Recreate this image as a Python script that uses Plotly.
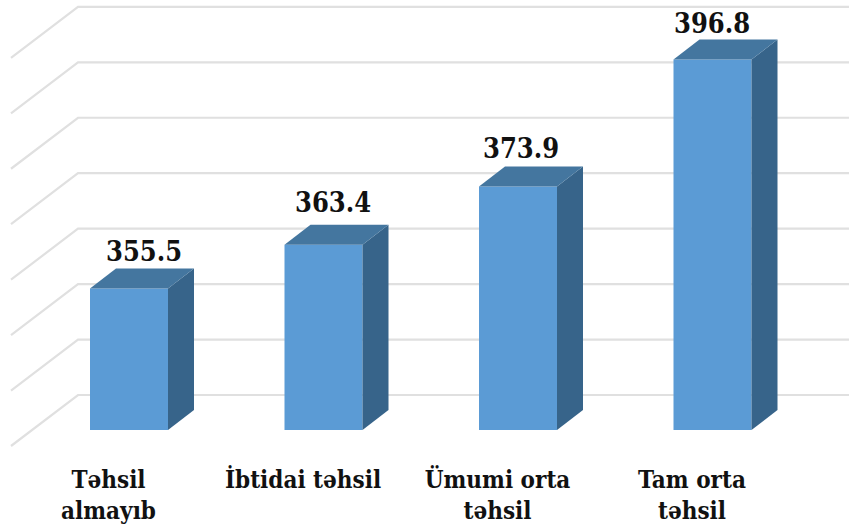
import plotly.graph_objects as go

# Data
categories = ["Təhsil<br>almayıb", "İbtidai təhsil", "Ümumi orta<br>təhsil", "Tam orta<br>təhsil"]
values = [355.5, 363.4, 373.9, 396.8]
grid_values = [330, 340, 350, 360, 370, 380, 390, 400]
axis_base = 330

# Layout (pixel scale of the picture)
W, H = 849, 528
PLOT_BOTTOM = 450
PX_PER_UNIT = 5.545
PX_PER_CAT = 194.5
X0_PX = 129.0
BASE_PX = 430.0
BAR_W = 78 / PX_PER_CAT
DX = 26 / PX_PER_CAT
DY = 20 / PX_PER_UNIT
WALL_Y = 35 / PX_PER_UNIT       # back wall sits above the bars' front plane
WALL_LEFT_X = (78 - X0_PX) / PX_PER_CAT
FRONT_LEFT_X = (11 - X0_PX) / PX_PER_CAT
FLOOR_DY = 51 / PX_PER_UNIT
X_MIN = -X0_PX / PX_PER_CAT
X_MAX = (W - X0_PX) / PX_PER_CAT
Y_MIN = axis_base - (PLOT_BOTTOM - BASE_PX) / PX_PER_UNIT
Y_MAX = axis_base + BASE_PX / PX_PER_UNIT
LABEL_TICK_SHIFT = -20.5 / PX_PER_CAT
label_xshift = [15, 9.5, 3, -0.5]
label_yshift = [37, 42, 38, 36]

FRONT, TOP, SIDE = "#5b9bd5", "#44769f", "#37648a"
GRID = "#e0e0e0"
FONT = "DejaVu Serif Condensed"

xs = list(range(len(values)))

fig = go.Figure()
fig.add_trace(go.Bar(
    x=xs, y=[v - axis_base for v in values], base=axis_base, width=BAR_W,
    marker=dict(color=FRONT, line=dict(width=0)), hoverinfo="skip", showlegend=False,
))
for x, v in zip(xs, values):
    r = x + BAR_W / 2
    l = x - BAR_W / 2
    fig.add_trace(go.Scatter(
        x=[r, r + DX, r + DX, r, r], y=[axis_base, axis_base + DY, v + DY, v, axis_base],
        mode="lines", fill="toself", fillcolor=SIDE, line=dict(width=0),
        hoverinfo="skip", showlegend=False,
    ))
    fig.add_trace(go.Scatter(
        x=[l, l + DX, r + DX, r, l], y=[v, v + DY, v + DY, v, v],
        mode="lines", fill="toself", fillcolor=TOP, line=dict(width=0),
        hoverinfo="skip", showlegend=False,
    ))

shapes = []
for g in grid_values:
    yb = g + WALL_Y
    shapes.append(dict(
        type="path", xref="x", yref="y", layer="below",
        path=f"M {FRONT_LEFT_X} {yb - FLOOR_DY} L {WALL_LEFT_X} {yb} L {X_MAX} {yb}",
        line=dict(color=GRID, width=2.2),
    ))

annotations = [
    dict(x=x, y=v, xref="x", yref="y", text=f"<b>{v:.1f}</b>", showarrow=False,
         xshift=sx, yshift=sy, xanchor="center", yanchor="middle",
         font=dict(family=FONT, size=27, color="#111111"))
    for x, v, sx, sy in zip(xs, values, label_xshift, label_yshift)
]

fig.update_layout(
    width=W, height=H, margin=dict(l=0, r=0, t=0, b=H - PLOT_BOTTOM),
    paper_bgcolor="white", plot_bgcolor="white", showlegend=False,
    shapes=shapes, annotations=annotations,
    xaxis=dict(
        range=[X_MIN, X_MAX], showgrid=False, zeroline=False, showline=False,
        tickmode="array", tickvals=[x + LABEL_TICK_SHIFT for x in xs],
        ticktext=[f"<b>{c}</b>" for c in categories],
        ticks="outside", ticklen=8, tickcolor="rgba(0,0,0,0)", tickangle=0,
        tickfont=dict(family=FONT, size=24, color="#111111"),
    ),
    yaxis=dict(range=[Y_MIN, Y_MAX], visible=False),
)

fig.write_html("out.html", config=dict(displayModeBar=False),
               post_script="document.body.style.margin='0';")
